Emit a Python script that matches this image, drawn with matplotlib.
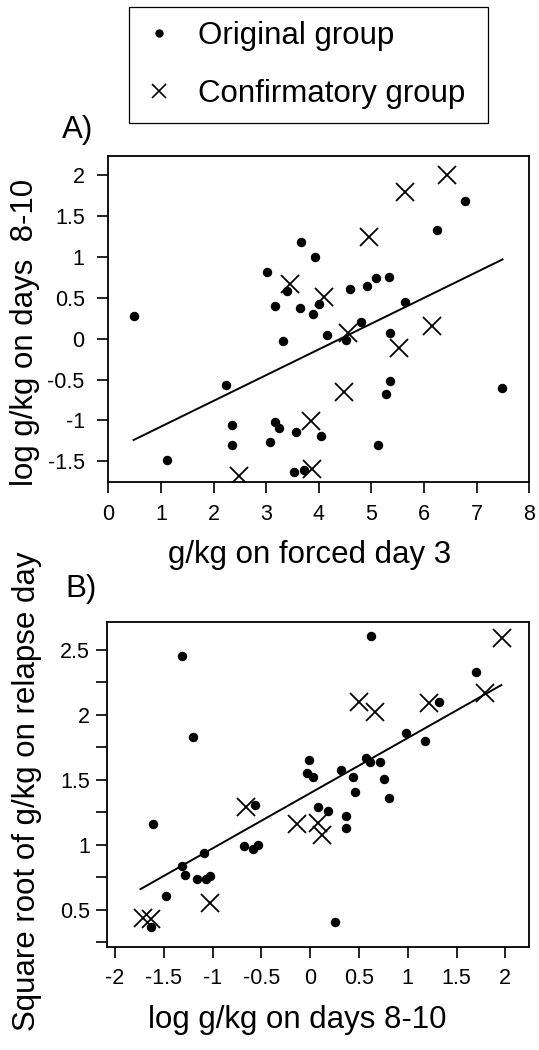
import matplotlib.pyplot as plt
import numpy as np
from matplotlib.lines import Line2D

plt.rcParams['font.family'] = ['Liberation Sans', 'DejaVu Sans']

# Panel A: g/kg on forced day 3 (x) vs log g/kg on days 8-10 (y)
a_orig_x = [0.48, 1.12, 2.24, 2.36, 2.36, 3.01, 3.17, 3.32, 3.39, 3.17, 3.24, 3.08,
            3.57, 3.52, 3.72, 3.67, 3.64, 3.92, 3.89, 4.00, 4.04, 4.16, 4.52, 4.60,
            4.80, 4.92, 5.08, 5.33, 5.36, 5.36, 5.28, 5.12, 5.64, 6.24, 6.77, 7.49]
a_orig_y = [0.28, -1.48, -0.57, -1.06, -1.30, 0.82, 0.40, -0.03, 0.58, -1.02, -1.09, -1.27,
            -1.14, -1.63, -1.61, 1.18, 0.38, 1.00, 0.30, 0.43, -1.19, 0.05, -0.01, 0.61,
            0.20, 0.64, 0.74, 0.76, 0.07, -0.52, -0.68, -1.30, 0.45, 1.33, 1.69, -0.60]
a_conf_x = [3.45, 4.10, 4.56, 4.96, 5.64, 6.44, 6.16, 5.53, 4.48, 3.86, 3.88, 2.48]
a_conf_y = [0.67, 0.51, 0.07, 1.24, 1.80, 2.00, 0.15, -0.11, -0.65, -1.01, -1.60, -1.68]
a_fit_x = [0.48, 7.49]
a_fit_y = [-1.24, 0.97]

# Panel B: log g/kg on days 8-10 (x) vs square root of g/kg on relapse day (y)
b_orig_x = [0.62, -1.31, -1.20, -1.61, 1.70, 1.32, 0.98, 1.18, 0.57, 0.61, 0.72, 0.76,
            0.81, 0.32, 0.44, 0.46, -0.01, -0.03, 0.03, 0.08, 0.18, 0.37, 0.37, -0.57,
            -0.68, -0.59, -0.53, -1.09, -1.31, -1.28, -1.16, -1.07, -1.03, -1.48, -1.63, 0.25]
b_orig_y = [2.61, 2.45, 1.83, 1.16, 2.33, 2.10, 1.86, 1.80, 1.67, 1.64, 1.64, 1.51,
            1.36, 1.58, 1.52, 1.41, 1.65, 1.55, 1.52, 1.29, 1.26, 1.22, 1.13, 1.31,
            0.99, 0.97, 1.00, 0.94, 0.84, 0.77, 0.74, 0.74, 0.76, 0.61, 0.37, 0.41]
b_conf_x = [1.97, 1.79, 1.22, 0.50, 0.66, -0.66, -0.14, 0.08, 0.12, -1.03, -1.71, -1.63]
b_conf_y = [2.59, 2.17, 2.09, 2.10, 2.02, 1.29, 1.16, 1.17, 1.08, 0.55, 0.44, 0.43]
b_fit_x = [-1.74, 1.96]
b_fit_y = [0.66, 2.23]

a_xticks = np.arange(0, 9, 1)
a_yticks = [-1.5, -1, -0.5, 0, 0.5, 1, 1.5, 2]
a_yticklabels = ['-1.5', '-1', '-0.5', '0', '0.5', '1', '1.5', '2']
b_xticks = [-2, -1.5, -1, -0.5, 0, 0.5, 1, 1.5, 2]
b_xticklabels = ['-2', '-1.5', '-1', '-0.5', '0', '0.5', '1', '1.5', '2']
b_yticks = np.arange(0.25, 2.51, 0.25)
b_yticklabels = ['' if (t * 2) % 1 else ('%g' % t) for t in b_yticks]

big = 22.5
small = 15.5

fig = plt.figure(figsize=(5.39, 10.5), dpi=100)
ax_a = fig.add_axes([108.3 / 539, 1 - 481.7 / 1050, 421 / 539, 326 / 1050])
ax_b = fig.add_axes([106.7 / 539, 1 - 947 / 1050, 422 / 539, 325.3 / 1050])

for ax in (ax_a, ax_b):
    for s in ax.spines.values():
        s.set_linewidth(1.3)
    ax.tick_params(direction='out', length=8, width=1.2, labelsize=small)

# panel A
ax_a.plot(a_orig_x, a_orig_y, 'o', color='black', ms=5.8, ls='none')
ax_a.plot(a_conf_x, a_conf_y, 'x', color='black', ms=13, mew=1.3, ls='none')
ax_a.plot(a_fit_x, a_fit_y, color='black', lw=1.4)
ax_a.set_xlim(0, 8)
ax_a.set_ylim(-1.75, 2.24)
ax_a.set_xticks(a_xticks)
ax_a.set_yticks(a_yticks)
ax_a.set_yticklabels(a_yticklabels)
ax_a.tick_params(axis='x', pad=8)
ax_a.tick_params(axis='y', pad=9)
ax_a.set_xlabel('g/kg on forced day 3', fontsize=big, va='baseline')
ax_a.xaxis.set_label_coords(0.479, -0.250)
ax_a.set_ylabel('log g/kg on days  8-10', fontsize=big, va='center')
ax_a.yaxis.set_label_coords(-0.198, 0.459)

# panel B
ax_b.plot(b_orig_x, b_orig_y, 'o', color='black', ms=5.8, ls='none')
ax_b.plot(b_conf_x, b_conf_y, 'x', color='black', ms=13, mew=1.3, ls='none')
ax_b.plot(b_fit_x, b_fit_y, color='black', lw=1.4)
ax_b.set_xlim(-2.086, 2.24)
ax_b.set_ylim(0.215, 2.717)
ax_b.set_xticks(b_xticks)
ax_b.set_xticklabels(b_xticklabels)
ax_b.set_yticks(b_yticks)
ax_b.set_yticklabels(b_yticklabels)
ax_b.tick_params(axis='x', pad=7)
ax_b.tick_params(axis='y', pad=4)
ax_b.set_xlabel('log g/kg on days 8-10', fontsize=big, va='baseline')
ax_b.xaxis.set_label_coords(0.451, -0.249)
ax_b.set_ylabel('Square root of g/kg on relapse day', fontsize=big, va='center')
ax_b.yaxis.set_label_coords(-0.189, 0.478)

fig.text(62 / 539, 1 - 138 / 1050, 'A)', fontsize=big, ha='left', va='baseline')
fig.text(65 / 539, 1 - 597 / 1050, 'B)', fontsize=big, ha='left', va='baseline')

handles = [Line2D([], [], marker='o', color='black', ms=5, ls='none'),
           Line2D([], [], marker='x', color='black', ms=10, mew=1.2, ls='none')]
leg_x0, leg_x1, leg_top = 129.3, 488.3, 7.3
leg = ax_a.legend(handles, ['Original group', 'Confirmatory group'],
                  loc='upper left', mode='expand',
                  bbox_to_anchor=(leg_x0 / 539, 1 - leg_top / 1050,
                                  (leg_x1 - leg_x0) / 539, 0),
                  bbox_transform=fig.transFigure, fontsize=big, frameon=True,
                  fancybox=False, framealpha=1, edgecolor='black',
                  handlelength=1.0, handletextpad=0.74, borderpad=0.45,
                  labelspacing=0.88, borderaxespad=0)
leg.get_frame().set_linewidth(0.9)

plt.savefig('out.png', dpi=100)
